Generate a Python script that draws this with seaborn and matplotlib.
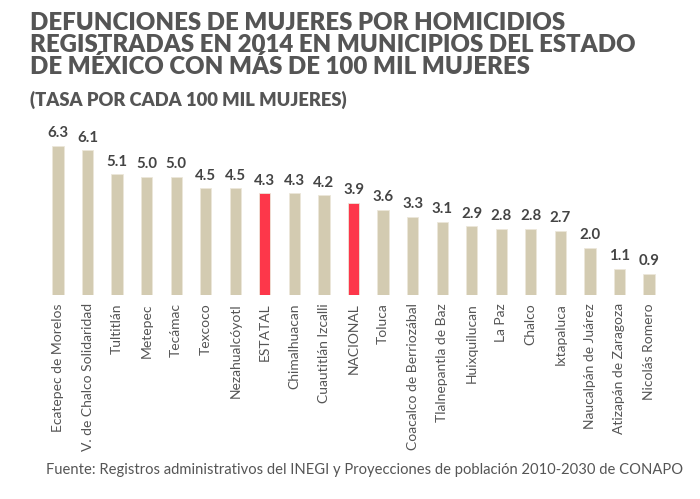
import matplotlib.pyplot as plt
import pandas as pd
import seaborn as sns

municipios = ['Ecatepec de Morelos', 'V. de Chalco Solidaridad', 'Tultitlán', 'Metepec', 'Tecámac',
              'Texcoco', 'Nezahualcóyotl', 'ESTATAL', 'Chimalhuacan', 'Cuautitlán Izcalli', 'NACIONAL',
              'Toluca', 'Coacalco de Berriozábal', 'Tlalnepantla de Baz', 'Huixquilucan', 'La Paz',
              'Chalco', 'Ixtapaluca', 'Naucalpán de Juárez', 'Atizapán de Zaragoza', 'Nicolás Romero']
tasas = [6.3, 6.1, 5.1, 5.0, 5.0, 4.5, 4.5, 4.3, 4.3, 4.2, 3.9, 3.6, 3.3, 3.1, 2.9, 2.8, 2.8, 2.7,
         2.0, 1.1, 0.9]
referencias = ['ESTATAL', 'NACIONAL']

df = pd.DataFrame({'municipio': municipios, 'tasa': tasas})
df['tipo'] = ['ref' if m in referencias else 'mun' for m in municipios]

sns.set_style('white')
plt.rcParams['font.family'] = ['Lato', 'DejaVu Sans']

fig = plt.figure(figsize=(7, 4.99), dpi=100)
ax = fig.add_axes([0.0617, 0.409, 0.8866, 0.371])

sns.barplot(data=df, x='municipio', y='tasa', hue='tipo',
            palette={'mun': '#d3cbb1', 'ref': '#fd374a'}, saturation=1,
            width=0.38, dodge=False, legend=False, ax=ax,
            edgecolor='#ece7da', linewidth=0.6)

for cont in ax.containers:
    ax.bar_label(cont, fmt='%.1f', padding=4, fontsize=10.8, fontweight='bold', color='#444444')

ax.set_xlim(-0.5, len(municipios) - 0.5)
ax.set_ylim(0, 7.82)
ax.set_xlabel('')
ax.set_ylabel('')
ax.set_yticks([])
ax.tick_params(axis='x', length=0, pad=6)
plt.setp(ax.get_xticklabels(), rotation=90, fontsize=10, color='#555555')
sns.despine(ax=ax, left=True, bottom=True)

fig.text(0.043, 0.975, 'DEFUNCIONES DE MUJERES POR HOMICIDIOS\nREGISTRADAS EN 2014 EN MUNICIPIOS DEL ESTADO\nDE MÉXICO CON MÁS DE 100 MIL MUJERES',
         ha='left', va='top', fontsize=17.3, fontweight='heavy', color='#555555', linespacing=0.95)
fig.text(0.043, 0.782, '(TASA POR CADA 100 MIL MUJERES)', ha='left', va='bottom',
         fontsize=13.2, fontweight='heavy', color='#555555')
fig.text(0.976, 0.045, 'Fuente: Registros administrativos del INEGI y Proyecciones de población 2010-2030 de CONAPO',
         ha='right', va='bottom', fontsize=10.6, color='#555555')

fig.savefig('out.png', dpi=100)
